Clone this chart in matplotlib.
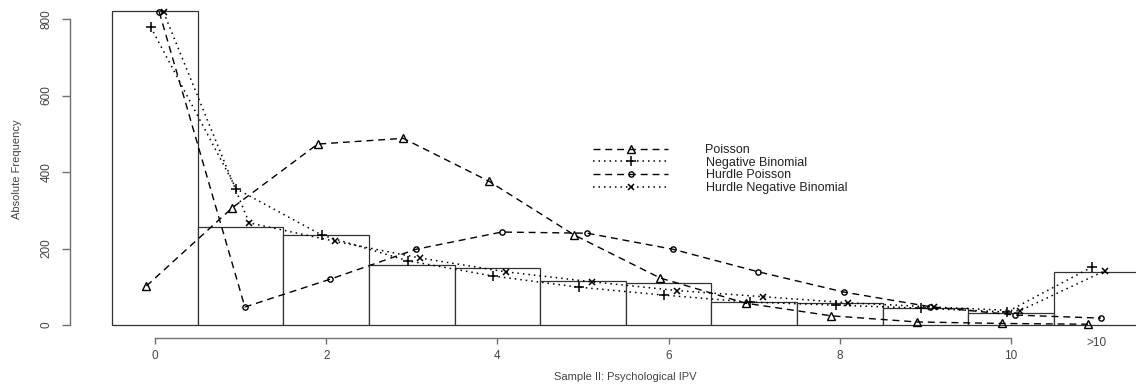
import matplotlib
matplotlib.use("Agg")
import matplotlib.pyplot as plt
import matplotlib.transforms as mtransforms
import numpy as np

plt.rcParams['font.family'] = ['Liberation Sans', 'DejaVu Sans']

# ---- data ----
categories = ["0", "1", "2", "3", "4", "5", "6", "7", "8", "9", "10", ">10"]
observed = [820, 256, 235, 157, 149, 115, 110, 60, 57, 44, 31, 139]
poisson = [102, 306, 473, 488, 376, 235, 123, 57, 24, 8, 4, 2]
neg_binomial = [779, 356, 235, 168, 128, 99, 78, 60, 52, 44, 34, 152]
hurdle_poisson = [818, 47, 120, 198, 243, 240, 198, 139, 86, 48, 26, 18]
hurdle_negbin = [818, 267, 219, 175, 139, 113, 90, 74, 58, 47, 37, 142]
xticks = [0, 2, 4, 6, 8, 10]
yticks = [0, 200, 400, 600, 800]

W, H = 1136, 389
fig = plt.figure(figsize=(W / 100, H / 100), dpi=100)
left_px, bottom_px, top_px, right_px = 70, 338, 0, 1136
ax = fig.add_axes([left_px / W, 1 - bottom_px / H,
                   (right_px - left_px) / W, (bottom_px - top_px) / H])

pos = np.arange(len(categories))
ax.bar(pos, observed, width=1.0, color='white', edgecolor='#333333',
       linewidth=0.9, zorder=1)

dash = (0, (5, 3.5))
dot = (0, (1, 2.6))
ax.plot(pos - 0.10, poisson, linestyle=dash, color='black', lw=1.0,
        marker='^', markersize=5.5, markerfacecolor='none',
        markeredgecolor='black', markeredgewidth=1.0, label='Poisson', zorder=3)
ax.plot(pos - 0.05, neg_binomial, linestyle=dot, color='black', lw=1.1,
        marker='+', markersize=6.5, markeredgewidth=1.1,
        label='Negative Binomial', zorder=3)
ax.plot(pos + 0.05, hurdle_poisson, linestyle=dash, color='black', lw=1.0,
        marker='o', markersize=3.8, markerfacecolor='none',
        markeredgecolor='black', markeredgewidth=1.0,
        label='Hurdle Poisson', zorder=3)
ax.plot(pos + 0.10, hurdle_negbin, linestyle=dot, color='black', lw=1.1,
        marker='x', markersize=4.3, markeredgewidth=1.1,
        label='Hurdle Negative Binomial', zorder=3)

# scales
px_per_unit_x = (1011 - 155) / 10.0
x0 = -(155 - left_px) / px_per_unit_x
x1 = (right_px - 155) / px_per_unit_x
ax.set_xlim(x0, x1)
px_per_unit_y = (325 - 19) / 800.0
y0 = -(bottom_px - 325) / px_per_unit_y
y1 = (325 - top_px) / px_per_unit_y
ax.set_ylim(y0, y1)

# R-style axes
for s in ['top', 'right']:
    ax.spines[s].set_visible(False)
ax.spines['left'].set_bounds(0, 800)
ax.spines['bottom'].set_bounds(0, 10)
axcol = '#707070'
ax.spines['left'].set_color(axcol)
ax.spines['bottom'].set_color(axcol)
ax.spines['left'].set_linewidth(1.0)
ax.spines['bottom'].set_linewidth(1.0)

ax.set_xticks(xticks)
ax.set_xticklabels([str(t) for t in xticks])
ax.set_yticks(yticks)
ax.set_yticklabels([str(t) for t in yticks], rotation=90, va='center')
ax.tick_params(axis='x', direction='out', length=4.2, width=1.0, color=axcol,
               labelsize=8.5, labelcolor='#444444', pad=4.5)
ax.tick_params(axis='y', direction='out', length=5.5, width=1.0, color=axcol,
               labelsize=8.5, labelcolor='#444444', pad=7)

# ">10" label
trans = mtransforms.blended_transform_factory(ax.transData, fig.transFigure)
ax.text(11, 1 - 343 / H, categories[-1], transform=trans, ha='center',
        va='center', fontsize=8.5, color='#444444', clip_on=False)

fig.text(17 / W, 1 - 169 / H, 'Absolute Frequency', rotation=90,
         ha='center', va='center', fontsize=8, color='#444444')
fig.text(625 / W, 1 - 377 / H, 'Sample II: Psychological IPV',
         ha='center', va='center', fontsize=8, color='#444444')

leg = ax.legend(loc='upper left', bbox_to_anchor=(593 / W, 1 - 144 / H),
                bbox_transform=fig.transFigure, frameon=False, fontsize=9,
                handlelength=6.0, handletextpad=3.0, labelspacing=0.05,
                borderpad=0, borderaxespad=0)
for t in leg.get_texts():
    t.set_color('#222222')

fig.savefig('out.png', dpi=100)
